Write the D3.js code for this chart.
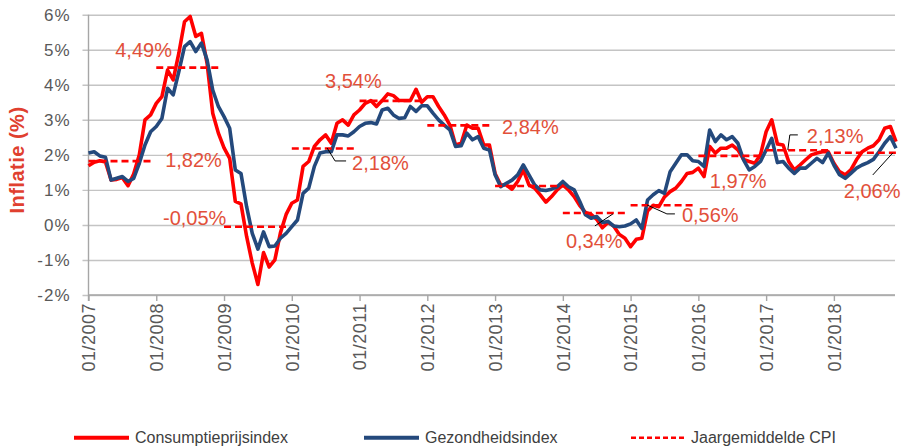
<!DOCTYPE html>
<html><head><meta charset="utf-8">
<script src="https://cdn.jsdelivr.net/npm/d3@7"></script>
<style>body{margin:0;background:#fff}text{font-family:Arial,"Liberation Sans",sans-serif}</style>
</head><body>
<svg id="c" width="904" height="447"></svg>
<script>
// ---------- DATA ----------
const xTickLabels = ["01/2007","01/2008","01/2009","01/2010","01/2011","01/2012","01/2013","01/2014","01/2015","01/2016","01/2017","01/2018"];
const yTicks = [-2,-1,0,1,2,3,4,5,6];
const seriesNames = ["Consumptieprijsindex","Gezondheidsindex","Jaargemiddelde CPI"];
// monthly, Jan 2007 .. Dec 2018
const cpi = [
 1.69,1.79,1.83,1.80,1.28,1.30,1.35,1.12,1.45,2.00,3.00,3.14,
 3.47,3.66,4.42,4.14,4.90,5.80,5.95,5.38,5.47,4.61,3.19,2.62,
 2.20,1.90,0.67,0.60,-0.33,-1.09,-1.70,-0.79,-1.20,-1.00,-0.22,0.30,
 0.62,0.71,1.67,1.81,2.24,2.43,2.57,2.33,2.90,3.00,2.85,3.14,
 3.28,3.47,3.55,3.38,3.55,3.74,3.69,3.55,3.55,3.55,3.87,3.50,
 3.66,3.66,3.38,3.14,2.85,2.28,2.33,2.85,2.76,2.76,2.28,2.28,
 1.47,1.14,1.14,1.02,1.24,1.57,1.14,1.05,0.86,0.65,0.81,1.00,
 1.14,1.00,0.81,0.55,0.36,0.30,0.16,-0.08,0.07,-0.03,-0.27,-0.38,
 -0.62,-0.41,-0.38,0.40,0.56,0.52,0.80,0.95,1.05,1.24,1.47,1.50,
 1.62,1.38,2.24,2.05,2.19,2.19,2.28,2.14,1.87,1.81,1.76,2.00,
 2.66,3.00,2.31,2.28,1.81,1.57,1.71,1.86,2.00,2.05,2.09,2.09,
 1.76,1.52,1.43,1.57,1.86,2.09,2.19,2.26,2.43,2.76,2.81,2.38
];
const gezondheid = [
 2.05,2.09,1.97,1.93,1.28,1.33,1.38,1.24,1.33,1.76,2.28,2.66,
 2.81,3.04,3.90,3.71,4.38,5.09,5.23,4.95,5.19,4.71,3.85,3.38,
 3.09,2.76,1.57,1.47,0.52,-0.24,-0.69,-0.20,-0.62,-0.60,-0.38,-0.24,
 -0.05,0.14,0.90,1.05,1.67,2.05,2.09,2.09,2.57,2.57,2.54,2.66,
 2.81,2.90,2.92,2.88,3.28,3.33,3.14,3.04,3.06,3.38,3.24,3.40,
 3.40,3.19,3.00,2.85,2.71,2.24,2.26,2.62,2.43,2.52,2.19,2.14,
 1.43,1.09,1.19,1.28,1.43,1.71,1.43,1.14,1.00,0.98,1.02,1.09,
 1.24,1.09,1.00,0.67,0.29,0.19,0.24,0.07,0.10,-0.03,-0.05,-0.03,
 0.03,0.14,-0.10,0.71,0.86,0.98,0.90,1.52,1.76,2.00,2.00,1.83,
 1.81,1.67,2.71,2.38,2.57,2.43,2.52,2.33,1.86,1.57,1.67,1.81,
 2.14,2.47,1.78,1.81,1.62,1.47,1.62,1.62,1.76,1.90,1.78,2.05,
 1.71,1.43,1.33,1.47,1.62,1.71,1.78,1.87,2.09,2.33,2.52,2.19
];
const avgYears = [2007,2008,2009,2010,2011,2012,2013,2014,2015,2016,2017,2018];
const avgCPI = [1.82,4.49,-0.05,2.18,3.54,2.84,1.11,0.34,0.56,1.97,2.13,2.06];
const avgLabelShown = [true,true,true,true,true,true,false,true,true,true,true,true];

// ---------- LAYOUT ----------
const RED = "#FF0000", BLUE = "#24497C", LABEL = "#E2503A", GRID = "#C4C4C4", AXIS = "#A6A6A6";
const labelLayout = [ // offsets (px) from start of the yearly dashed line
 {dx:76.7,dy:5.8},{dx:-41,dy:-10.7},{dx:-61,dy:-1.8},{dx:60.3,dy:21.4,lead:[[35.3,-0.6],[43.3,12.4],[54.3,12.4]]},
 {dx:-34.5,dy:-13},{dx:74.7,dy:8.5},null,{dx:3.1,dy:35,lead:[[32.1,12.9],[50.1,0.9]]},
 {dx:51.3,dy:16.6,lead:[[16.3,-0.4],[36.3,8.6],[44.3,8.6]]},{dx:11.5,dy:32},
 {dx:40.7,dy:-7.4,lead:[[21.7,-0.4],[23.7,-15.4],[31.7,-15.4]]},{dx:9.9,dy:45,lead:[[58.9,0.2],[38.9,22.2]]}
];

const svg = d3.select("#c");
const x = d3.scaleLinear().domain([0, 143]).range([88.5, 896]);
const y = d3.scaleLinear().domain([-2, 6]).range([295, 14.7]);
const plotRight = 895;

// gridlines + y axis
const yAxis = svg.append("g").attr("transform", `translate(${x(0)},0)`)
  .call(d3.axisLeft(y).tickValues(yTicks).tickSize(-(plotRight - x(0))).tickSizeOuter(0).tickFormat(d => d + "%"));
yAxis.select(".domain").remove();
yAxis.selectAll(".tick line").attr("x1", -6).attr("stroke", GRID).attr("stroke-width", 1.4);
yAxis.selectAll(".tick text").attr("x", -18).attr("fill", "#595959")
  .style("font-size", "17px").style("letter-spacing", "1px");
svg.append("line").attr("x1", x(0)).attr("x2", x(0)).attr("y1", y(6)).attr("y2", y(-2)+6)
  .attr("stroke", AXIS).attr("stroke-width", 1.4);

// x axis
const xTickVals = xTickLabels.map((d, i) => i * 12);
const xAxis = svg.append("g").attr("transform", `translate(0,${y(-2)})`)
  .call(d3.axisBottom(x).tickValues(xTickVals).tickSize(6).tickSizeOuter(0).tickFormat((d, i) => xTickLabels[i]));
xAxis.select(".domain").attr("stroke", AXIS).attr("stroke-width", 1.4).attr("d", `M${x(0)},0H${plotRight}`);
xAxis.selectAll(".tick line").attr("stroke", AXIS).attr("stroke-width", 1.4);
xAxis.selectAll(".tick text").attr("transform", "translate(0,8) rotate(-90)")
  .attr("text-anchor", "end").attr("x", 0).attr("y", 0).attr("dy", "0.35em")
  .attr("fill", "#595959").style("font-size", "18px").style("letter-spacing", "0.5px");

// y title
svg.append("text").attr("transform", "translate(24,160) rotate(-90)").attr("text-anchor", "middle")
  .attr("fill", "#E0402F").style("font-size", "20px").style("font-weight", "bold").style("letter-spacing", "0.5px")
  .text("Inflatie (%)");

// series
const line = d3.line().x((d, i) => x(i)).y(d => y(d));
svg.append("path").datum(cpi).attr("d", line).attr("fill", "none").attr("stroke", RED)
  .attr("stroke-width", 3.6).attr("stroke-linejoin", "round");
svg.append("path").datum(gezondheid).attr("d", line).attr("fill", "none").attr("stroke", BLUE)
  .attr("stroke-width", 3.6).attr("stroke-linejoin", "round");

// yearly averages
const fmt = v => d3.format(".2f")(v).replace("\u2212", "-").replace(".", ",") + "%";
avgYears.forEach((yr, k) => {
  const m0 = (yr - 2007) * 12;
  const x0 = x(m0), y0 = y(avgCPI[k]);
  svg.append("line").attr("x1", x0).attr("x2", x(m0 + 11.3)).attr("y1", y0).attr("y2", y0)
    .attr("stroke", RED).attr("stroke-width", 2.6).attr("stroke-dasharray", "7,4");
  const L = labelLayout[k];
  if (avgLabelShown[k] && L) {
    if (L.lead) {
      svg.append("polyline").attr("points", L.lead.map(p => [x0 + p[0], y0 + p[1]].join(",")).join(" "))
        .attr("fill", "none").attr("stroke", "#000").attr("stroke-width", 1);
    }
    svg.append("text").attr("x", x0 + L.dx).attr("y", y0 + L.dy).attr("fill", LABEL)
      .style("font-size", "20px").text(fmt(avgCPI[k]));
  }
});

// legend
const legY = 437.7;
const legItems = [
  {x1: 74, x2: 129, tx: 135, color: RED, dash: null, w: 4},
  {x1: 364, x2: 419, tx: 425, color: BLUE, dash: null, w: 4},
  {x1: 631, x2: 686, tx: 691, color: RED, dash: "5,3", w: 2.6}
];
legItems.forEach((it, i) => {
  svg.append("line").attr("x1", it.x1).attr("x2", it.x2).attr("y1", legY).attr("y2", legY)
    .attr("stroke", it.color).attr("stroke-width", it.w).attr("stroke-dasharray", it.dash);
  svg.append("text").attr("x", it.tx).attr("y", legY).attr("dy", "0.35em").attr("fill", "#404040")
    .style("font-size", "16px").text(seriesNames[i]);
});
</script>
</body></html>
